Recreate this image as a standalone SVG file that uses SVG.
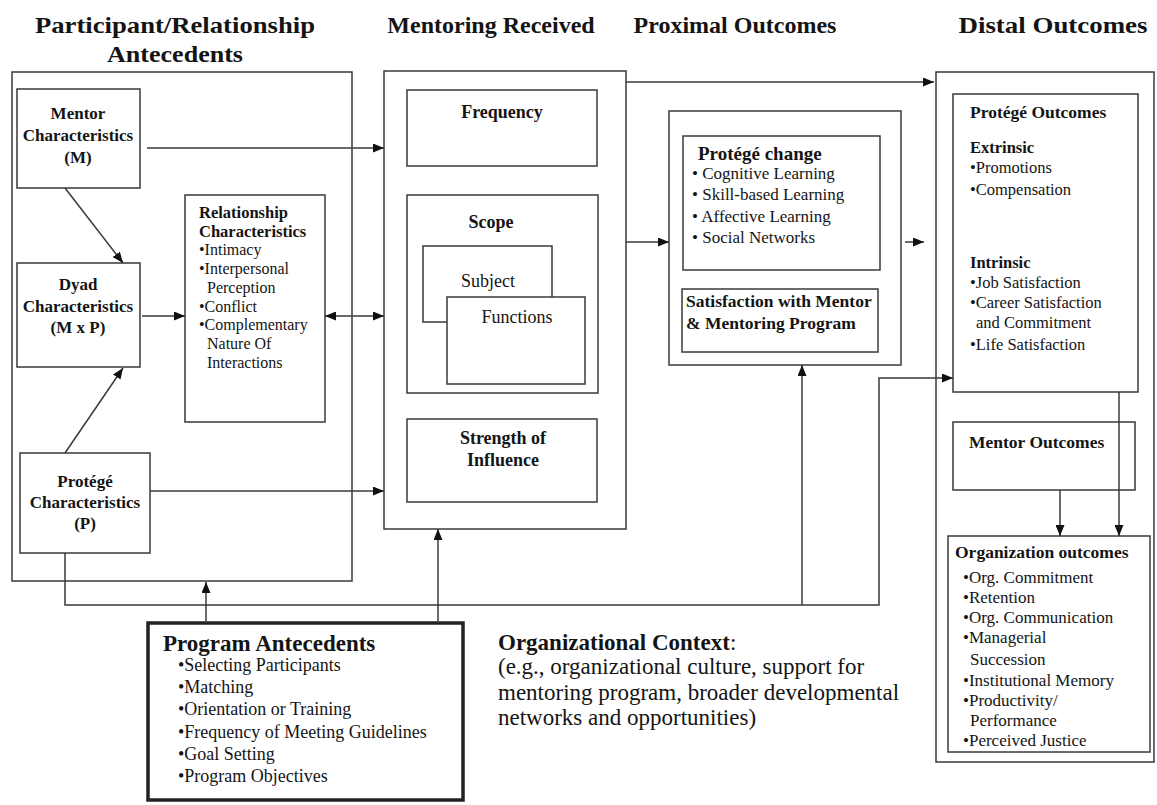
<svg xmlns="http://www.w3.org/2000/svg" width="1157" height="805" viewBox="0 0 1157 805">
<style>
.t{font-family:"Liberation Serif","Times New Roman",serif;fill:#141414}
.b{font-weight:bold}
.m{text-anchor:middle}
.box{fill:#fff;stroke:#3a3a3a;stroke-width:1.5}
.ln{fill:none;stroke:#3a3a3a;stroke-width:1.5}
.h{font-size:24px;font-weight:bold}
.n17{font-size:17px;font-weight:bold}
.r16{font-size:16px}
.r17{font-size:17px}
.r18{font-size:18px}
</style>
<defs>
<marker id="ah" markerUnits="userSpaceOnUse" markerWidth="11" markerHeight="9" refX="11" refY="4.5" orient="auto-start-reverse">
<path d="M0,0 L11,4.5 L0,9 z" fill="#111"/>
</marker>
</defs>
<rect width="1157" height="805" fill="#fff"/>

<g id="titles" class="t">
<text class="h m" x="175" y="33" textLength="280" lengthAdjust="spacingAndGlyphs">Participant/Relationship</text>
<text class="h m" x="175" y="62" textLength="136" lengthAdjust="spacingAndGlyphs">Antecedents</text>
<text class="h m" x="491" y="33">Mentoring Received</text>
<text class="h m" x="735" y="33">Proximal Outcomes</text>
<text class="h m" x="1053" y="33" textLength="189" lengthAdjust="spacingAndGlyphs">Distal Outcomes</text>
</g>

<g id="participant-antecedents">
<rect class="box" x="12" y="72" width="340" height="509"/>
</g>
<g id="mentor-characteristics" class="t">
<rect class="box" x="17" y="89" width="123" height="99"/>
<text class="n17 m" x="78" y="119">Mentor</text>
<text class="n17 m" x="78" y="141">Characteristics</text>
<text class="n17 m" x="78" y="163">(M)</text>
</g>
<g id="dyad-characteristics" class="t">
<rect class="box" x="17" y="263" width="123" height="104"/>
<text class="n17 m" x="78" y="290">Dyad</text>
<text class="n17 m" x="78" y="312">Characteristics</text>
<text class="n17 m" x="78" y="333">(M x P)</text>
</g>
<g id="protege-characteristics" class="t">
<rect class="box" x="20" y="453" width="130" height="100"/>
<text class="n17 m" x="85" y="487">Protégé</text>
<text class="n17 m" x="85" y="508">Characteristics</text>
<text class="n17 m" x="85" y="529">(P)</text>
</g>
<g id="relationship-characteristics" class="t">
<rect class="box" x="185" y="195" width="140" height="227"/>
<text class="b" style="font-size:16.5px" x="199" y="218">Relationship</text>
<text class="b" style="font-size:16.5px" x="199" y="237">Characteristics</text>
<text class="r16" x="199" y="255">•Intimacy</text>
<text class="r16" x="199" y="274">•Interpersonal</text>
<text class="r16" x="207" y="293">Perception</text>
<text class="r16" x="199" y="312">•Conflict</text>
<text class="r16" x="199" y="330">•Complementary</text>
<text class="r16" x="207" y="349">Nature Of</text>
<text class="r16" x="207" y="368">Interactions</text>
</g>

<g id="mentoring-received">
<rect class="box" x="384" y="71" width="242" height="458"/>
</g>
<g id="frequency" class="t">
<rect class="box" x="407" y="90" width="190" height="76"/>
<text class="b m" style="font-size:18px" x="502" y="118">Frequency</text>
</g>
<g id="scope" class="t">
<rect class="box" x="407" y="195" width="191" height="198"/>
<text class="b m" style="font-size:18px" x="491" y="228">Scope</text>
</g>
<g id="subject" class="t">
<rect class="box" x="423" y="246" width="129" height="76"/>
<text class="r18 m" x="488" y="287">Subject</text>
</g>
<g id="functions" class="t">
<rect class="box" x="447" y="297" width="138" height="87"/>
<text class="r18 m" x="517" y="323">Functions</text>
</g>
<g id="strength-of-influence" class="t">
<rect class="box" x="407" y="419" width="190" height="83"/>
<text class="b m" style="font-size:18px" x="503" y="444">Strength of</text>
<text class="b m" style="font-size:18px" x="503" y="466">Influence</text>
</g>

<g id="proximal-outcomes">
<rect class="box" x="669" y="111" width="232" height="254"/>
</g>
<g id="protege-change" class="t">
<rect class="box" x="683" y="136" width="197" height="134"/>
<text class="b" style="font-size:19px" x="698" y="160">Protégé change</text>
<text class="r17" x="692" y="179">• Cognitive Learning</text>
<text class="r17" x="692" y="200">• Skill-based Learning</text>
<text class="r17" x="692" y="222">• Affective Learning</text>
<text class="r17" x="692" y="243">• Social Networks</text>
</g>
<g id="satisfaction" class="t">
<rect class="box" x="682" y="289" width="196" height="63"/>
<text class="b" style="font-size:17.5px" x="686" y="307">Satisfaction with Mentor</text>
<text class="b" style="font-size:17.5px" x="686" y="329">&amp; Mentoring Program</text>
</g>

<g id="distal-outcomes">
<rect class="box" x="936" y="72" width="218" height="690"/>
</g>
<g id="protege-outcomes" class="t">
<rect class="box" x="953" y="94" width="185" height="298"/>
<text class="b" style="font-size:17.5px" x="970" y="118">Protégé Outcomes</text>
<text class="b" style="font-size:16.5px" x="970" y="153">Extrinsic</text>
<text style="font-size:16.5px" x="970" y="173">•Promotions</text>
<text style="font-size:16.5px" x="970" y="195">•Compensation</text>
<text class="b" style="font-size:16.5px" x="970" y="268">Intrinsic</text>
<text style="font-size:16.5px" x="970" y="288">•Job Satisfaction</text>
<text style="font-size:16.5px" x="970" y="308">•Career Satisfaction</text>
<text style="font-size:16.5px" x="976" y="328">and Commitment</text>
<text style="font-size:16.5px" x="970" y="350">•Life Satisfaction</text>
</g>
<g id="mentor-outcomes" class="t">
<rect class="box" x="953" y="422" width="182" height="68"/>
<text class="b" style="font-size:17.5px" x="969" y="448">Mentor Outcomes</text>
</g>
<g id="organization-outcomes" class="t">
<rect class="box" x="948" y="536" width="202" height="216"/>
<text class="b" style="font-size:17.5px" x="955" y="558">Organization outcomes</text>
<text class="r17" x="963" y="583">•Org. Commitment</text>
<text class="r17" x="963" y="603">•Retention</text>
<text class="r17" x="963" y="623">•Org. Communication</text>
<text class="r17" x="963" y="643">•Managerial</text>
<text class="r17" x="970" y="665">Succession</text>
<text class="r17" x="963" y="686">•Institutional Memory</text>
<text class="r17" x="963" y="706">•Productivity/</text>
<text class="r17" x="970" y="726">Performance</text>
<text class="r17" x="963" y="746">•Perceived Justice</text>
</g>

<g id="program-antecedents" class="t">
<rect x="148" y="623" width="315" height="177" fill="#fff" stroke="#222" stroke-width="3.5"/>
<text class="b" style="font-size:23px" x="163" y="651">Program Antecedents</text>
<text class="r18" x="178" y="671">•Selecting Participants</text>
<text class="r18" x="178" y="693">•Matching</text>
<text class="r18" x="178" y="715">•Orientation or Training</text>
<text class="r18" x="178" y="738">•Frequency of Meeting Guidelines</text>
<text class="r18" x="178" y="760">•Goal Setting</text>
<text class="r18" x="178" y="782">•Program Objectives</text>
</g>

<g id="organizational-context" class="t">
<text style="font-size:23px" x="498" y="650"><tspan class="b">Organizational Context</tspan>:</text>
<text style="font-size:23px" x="498" y="674">(e.g., organizational culture, support for</text>
<text style="font-size:23px" x="498" y="700">mentoring program, broader developmental</text>
<text style="font-size:23px" x="498" y="725">networks and opportunities)</text>
</g>

<g id="connectors">
<line class="ln" x1="147" y1="148" x2="384" y2="148" marker-end="url(#ah)"/>
<line class="ln" x1="65" y1="188" x2="123" y2="263" marker-end="url(#ah)"/>
<line class="ln" x1="65" y1="453" x2="123" y2="368" marker-end="url(#ah)"/>
<line class="ln" x1="142" y1="316" x2="185" y2="316" marker-end="url(#ah)"/>
<line class="ln" x1="325" y1="316" x2="384" y2="316" marker-start="url(#ah)" marker-end="url(#ah)"/>
<line class="ln" x1="150" y1="491" x2="384" y2="491" marker-end="url(#ah)"/>
<line class="ln" x1="626" y1="242" x2="669" y2="242" marker-end="url(#ah)"/>
<line class="ln" x1="905" y1="242" x2="924" y2="242" marker-end="url(#ah)"/>
<line class="ln" x1="626" y1="82" x2="934" y2="82" marker-end="url(#ah)"/>
<polyline class="ln" points="65,553 65,605 879,605 879,378 953,378" marker-end="url(#ah)"/>
<line class="ln" x1="802" y1="605" x2="802" y2="365" marker-end="url(#ah)"/>
<line class="ln" x1="206" y1="623" x2="206" y2="582" marker-end="url(#ah)"/>
<line class="ln" x1="438" y1="623" x2="438" y2="529" marker-end="url(#ah)"/>
<line class="ln" x1="1119" y1="392" x2="1119" y2="536" marker-end="url(#ah)"/>
<line class="ln" x1="1060" y1="490" x2="1060" y2="536" marker-end="url(#ah)"/>
</g>
</svg>
